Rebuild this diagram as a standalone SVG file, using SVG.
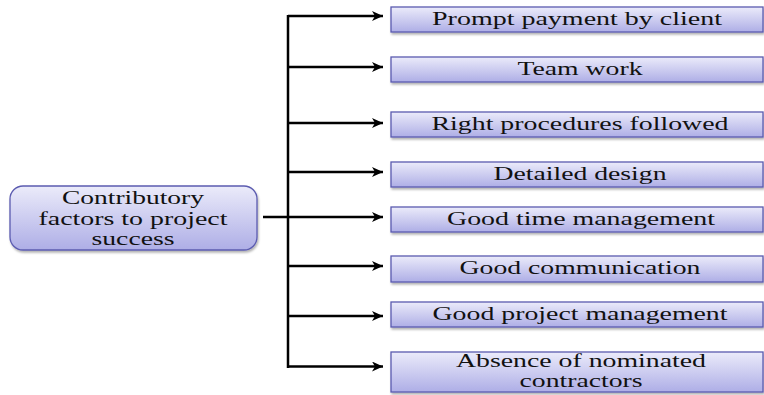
<svg xmlns="http://www.w3.org/2000/svg" width="764" height="395" viewBox="0 0 764 395">
<defs>
<linearGradient id="g" x1="0" y1="0" x2="0" y2="1">
<stop offset="0" stop-color="#ebebfa"/>
<stop offset="1" stop-color="#aeaee6"/>
</linearGradient>
<filter id="sh" x="-5%" y="-20%" width="110%" height="150%">
<feDropShadow dx="1" dy="2" stdDeviation="1" flood-color="#000" flood-opacity="0.3"/>
</filter>
<marker id="ah" markerWidth="12" markerHeight="10" refX="11" refY="5" orient="auto" markerUnits="userSpaceOnUse">
<path d="M0,0 L11,5 L0,10 L3,5 Z" fill="#000"/>
</marker>
</defs>
<style>
.box{fill:url(#g);stroke:#5b5bb0;stroke-width:1.3;filter:url(#sh)}
.t{font-family:"Liberation Serif","Times New Roman",serif;font-size:18px;fill:#111;text-anchor:middle}
.c{stroke:#000;stroke-width:2.5;fill:none}
</style>
<g id="connectors">
<line class="c" x1="288" y1="15" x2="288" y2="368"/>
<line class="c" x1="263" y1="217" x2="383" y2="217" marker-end="url(#ah)"/>
<line class="c" x1="288" y1="16" x2="383" y2="16" marker-end="url(#ah)"/>
<line class="c" x1="288" y1="67" x2="383" y2="67" marker-end="url(#ah)"/>
<line class="c" x1="288" y1="123" x2="383" y2="123" marker-end="url(#ah)"/>
<line class="c" x1="288" y1="172" x2="383" y2="172" marker-end="url(#ah)"/>
<line class="c" x1="288" y1="266" x2="383" y2="266" marker-end="url(#ah)"/>
<line class="c" x1="288" y1="316" x2="383" y2="316" marker-end="url(#ah)"/>
<line class="c" x1="288" y1="366.5" x2="383" y2="366.5" marker-end="url(#ah)"/>
</g>
<g id="root">
<rect class="box" x="10" y="186" width="247" height="64" rx="13"/>
<text class="t" x="133" y="204" textLength="142" lengthAdjust="spacingAndGlyphs">Contributory</text>
<text class="t" x="133" y="225" textLength="189" lengthAdjust="spacingAndGlyphs">factors to project</text>
<text class="t" x="133" y="245" textLength="83" lengthAdjust="spacingAndGlyphs">success</text>
</g>
<g id="n1">
<rect class="box" x="391" y="7" width="372" height="25"/>
<text class="t" x="577" y="25" textLength="290" lengthAdjust="spacingAndGlyphs">Prompt payment by client</text>
</g>
<g id="n2">
<rect class="box" x="391" y="57" width="372" height="25"/>
<text class="t" x="580" y="75" textLength="125" lengthAdjust="spacingAndGlyphs">Team work</text>
</g>
<g id="n3">
<rect class="box" x="391" y="112" width="372" height="25"/>
<text class="t" x="580" y="130" textLength="297" lengthAdjust="spacingAndGlyphs">Right procedures followed</text>
</g>
<g id="n4">
<rect class="box" x="391" y="162" width="372" height="25"/>
<text class="t" x="580" y="180" textLength="173" lengthAdjust="spacingAndGlyphs">Detailed design</text>
</g>
<g id="n5">
<rect class="box" x="391" y="207" width="372" height="25"/>
<text class="t" x="581" y="225" textLength="268" lengthAdjust="spacingAndGlyphs">Good time management</text>
</g>
<g id="n6">
<rect class="box" x="391" y="256" width="372" height="26"/>
<text class="t" x="580" y="274" textLength="241" lengthAdjust="spacingAndGlyphs">Good communication</text>
</g>
<g id="n7">
<rect class="box" x="391" y="302" width="372" height="25"/>
<text class="t" x="580" y="320" textLength="295" lengthAdjust="spacingAndGlyphs">Good project management</text>
</g>
<g id="n8">
<rect class="box" x="391" y="352" width="372" height="40"/>
<text class="t" x="581" y="367" textLength="250" lengthAdjust="spacingAndGlyphs">Absence of nominated</text>
<text class="t" x="581" y="387" textLength="123" lengthAdjust="spacingAndGlyphs">contractors</text>
</g>
</svg>
